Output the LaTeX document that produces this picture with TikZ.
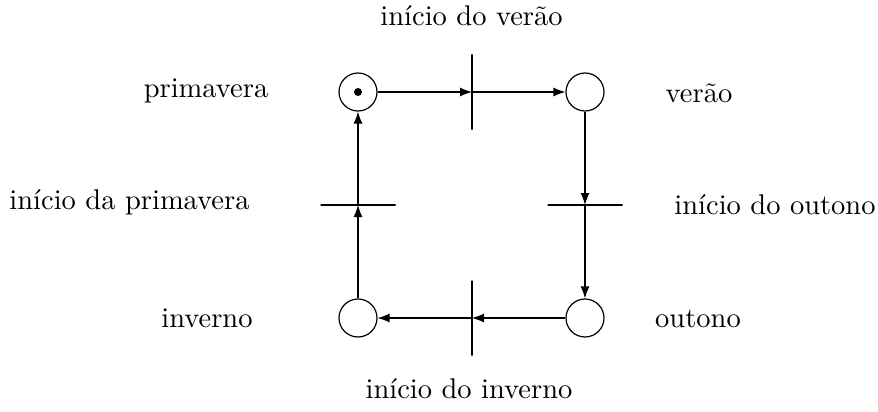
\documentclass[tikz,border=0pt]{standalone}
\usetikzlibrary{arrows.meta}
\begin{document}
\begin{tikzpicture}[x=1pt,y=-1pt,
  line width=1.2pt,
  place/.style={circle,draw,minimum size=38pt,inner sep=0pt},
  vtrans/.style={draw,minimum width=0pt,minimum height=75pt,inner sep=0pt,outer sep=0pt},
  htrans/.style={draw,minimum width=75pt,minimum height=0pt,inner sep=0pt,outer sep=0pt},
  lbl/.style={anchor=base,inner sep=0pt,scale=2.85},
  flow/.style={-{Latex[length=12pt 0 0,width=9pt 0 0]}}]
\useasboundingbox (0,0) rectangle (878,412);
\node[place] (P) at (358,92) {};
\node[place] (V) at (585,92) {};
\node[place] (O) at (585,318) {};
\node[place] (I) at (358,318) {};
\fill (P.center) circle (4pt);
\node[vtrans] (T1) at (472,92) {};
\node[htrans] (T2) at (585,205) {};
\node[vtrans] (T3) at (472,318) {};
\node[htrans] (T4) at (358,205) {};
\draw[flow] (P) -- (T1);
\draw[flow] (T1) -- (V);
\draw[flow] (V) -- (T2);
\draw[flow] (T2) -- (O);
\draw[flow] (O) -- (T3);
\draw[flow] (T3) -- (I);
\draw[flow] (I) -- (T4);
\draw[flow] (T4) -- (P);
\node[lbl] (l1) at (471.5,26) {início do verão};
\node[lbl] (l2) at (206,97) {primavera};
\node[lbl] (l3) at (699,102) {verão};
\node[lbl] (l4) at (129.5,209) {início da primavera};
\node[lbl] (l5) at (775,214) {início do outono};
\node[lbl] (l6) at (207,327) {inverno};
\node[lbl] (l7) at (698,327) {outono};
\node[lbl] (l8) at (469,398) {início do inverno};
\end{tikzpicture}
\end{document}
